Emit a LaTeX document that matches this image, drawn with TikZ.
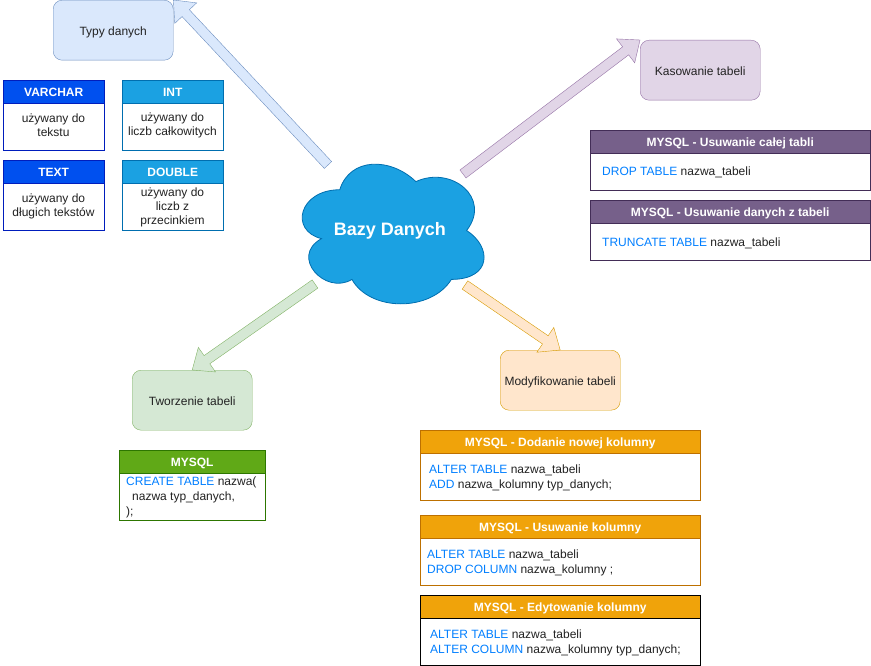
\documentclass[tikz,border=0pt]{standalone}
\usepackage{fontspec}
\setmainfont{Liberation Sans}
\usetikzlibrary{calc}
\definecolor{typyF}{HTML}{DAE8FC}\definecolor{typyD}{HTML}{6C8EBF}
\definecolor{purF}{HTML}{E1D5E7}\definecolor{purD}{HTML}{9673A6}
\definecolor{grnF}{HTML}{D5E8D4}\definecolor{grnD}{HTML}{82B366}
\definecolor{oraF}{HTML}{FFE6CC}\definecolor{oraD}{HTML}{D79B00}
\definecolor{cloudF}{HTML}{1BA1E2}\definecolor{cloudD}{HTML}{006EAF}
\definecolor{vcF}{HTML}{0050EF}\definecolor{vcD}{HTML}{001DBC}
\definecolor{mpF}{HTML}{76608A}\definecolor{mpD}{HTML}{432D57}
\definecolor{mgF}{HTML}{60A917}\definecolor{mgD}{HTML}{2D7600}
\definecolor{moF}{HTML}{F0A30A}\definecolor{moD}{HTML}{BD7000}
\definecolor{kw}{HTML}{007FFF}
\definecolor{txt}{HTML}{222222}
\newcommand\flexarr[4]{%
  \coordinate (fab) at ($(#2)!18pt!(#1)$);
  \filldraw[draw=#4,fill=#3,line join=miter]
    ($(#1)!5pt!90:(#2)$) -- ($(fab)!5pt!-90:(#1)$) -- ($(fab)!15pt!-90:(#1)$)
    -- (#2) -- ($(fab)!15pt!90:(#1)$) -- ($(fab)!5pt!90:(#1)$)
    -- ($(#1)!5pt!-90:(#2)$) -- cycle;}
\begin{document}
\begin{tikzpicture}[x=1pt,y=-1pt,
  every node/.style={font=\fontsize{12}{14}\selectfont, text=txt, inner sep=0pt},
  topic/.style={draw, rounded corners=9pt, minimum width=120pt, minimum height=60pt, anchor=north west, text height=10pt, text depth=0pt},
  hdr/.style={draw, text=white, font=\bfseries\fontsize{12}{14}\selectfont, minimum height=23pt, anchor=north west, text height=10.4pt, text depth=0pt},
  bodyrect/.style={draw, fill=white, anchor=north west},
  desc/.style={align=center, font=\fontsize{12}{14}\selectfont},
  code/.style={align=left, anchor=west, font=\fontsize{12}{15}\selectfont}
]
\useasboundingbox (0,0) rectangle (871,666);
% cloud
\filldraw[draw=cloudD, fill=cloudF, line width=0.8pt, shift={(289,149)}, x=203pt, y=-163pt]
  (0.25,0.25) .. controls (0.05,0.25) and (0,0.5) .. (0.16,0.55)
  .. controls (0,0.66) and (0.18,0.9) .. (0.31,0.8)
  .. controls (0.4,1) and (0.7,1) .. (0.8,0.8)
  .. controls (1,0.8) and (1,0.6) .. (0.875,0.5)
  .. controls (1,0.3) and (0.8,0.1) .. (0.625,0.2)
  .. controls (0.5,0.05) and (0.3,0.05) .. (0.25,0.25) -- cycle;
\node[anchor=base, text=white, font=\bfseries\fontsize{18}{20}\selectfont] (cloud) at (390,236) {Bazy Danych};

% topic boxes
\node[topic, draw=typyD, fill=typyF] (typy) at (53,0) {Typy danych};
\node[topic, draw=purD, fill=purF] (kas) at (640,40) {Kasowanie tabeli};
\node[topic, draw=grnD, fill=grnF] (tworz) at (132,370) {Tworzenie tabeli};
\node[topic, draw=oraD, fill=oraF] (mod) at (500,350) {Modyfikowanie tabeli};

% arrows
\coordinate (tb) at (328,165);
\coordinate (tp) at (463,174);
\coordinate (tg) at (315,284);
\coordinate (to) at (465,285);
\flexarr{tb}{typy.north east}{typyF}{typyD}
\flexarr{tp}{kas.north west}{purF}{purD}
\flexarr{tg}{tworz.north}{grnF}{grnD}
\flexarr{to}{mod.north}{oraF}{oraD}

% data type boxes
\node[bodyrect, draw=vcD, minimum width=101pt, minimum height=70pt] (vcB) at (3,80) {};
\node[hdr, fill=vcF, draw=vcD, minimum width=101pt] (vcH) at (3,80) {VARCHAR};
\node[desc] (vcT) at (53.5,125.5) {używany do\\tekstu};
\node[bodyrect, draw=cloudD, minimum width=101pt, minimum height=70pt] (inB) at (122,80) {};
\node[hdr, fill=cloudF, draw=cloudD, minimum width=101pt] (inH) at (122,80) {INT};
\node[desc] (inT) at (172.5,125.5) {używany do\\liczb całkowitych};
\node[bodyrect, draw=vcD, minimum width=101pt, minimum height=70pt] (txB) at (3,160) {};
\node[hdr, fill=vcF, draw=vcD, minimum width=101pt] (txH) at (3,160) {TEXT};
\node[desc] (txT) at (53.5,206) {używany do\\długich tekstów};
\node[bodyrect, draw=cloudD, minimum width=101pt, minimum height=70pt] (dbB) at (122,160) {};
\node[hdr, fill=cloudF, draw=cloudD, minimum width=101pt] (dbH) at (122,160) {DOUBLE};
\node[desc] (dbT) at (172.5,207) {używany do\\liczb z\\przecinkiem};

% purple mysql boxes
\node[bodyrect, draw=mpD, minimum width=280pt, minimum height=60pt] (p1B) at (590,130) {};
\node[hdr, fill=mpF, draw=mpD, minimum width=280pt] (p1H) at (590,130) {MYSQL - Usuwanie całej tabli};
\node[code] (p1T) at (602,172) {\textcolor{kw}{DROP TABLE} nazwa\_tabeli};
\node[bodyrect, draw=mpD, minimum width=280pt, minimum height=60pt] (p2B) at (590,200) {};
\node[hdr, fill=mpF, draw=mpD, minimum width=280pt] (p2H) at (590,200) {MYSQL - Usuwanie danych z tabeli};
\node[code] (p2T) at (602,243) {\textcolor{kw}{TRUNCATE TABLE} nazwa\_tabeli};

% green mysql box
\node[bodyrect, draw=mgD, minimum width=146pt, minimum height=70pt] (gB) at (119,450) {};
\node[hdr, fill=mgF, draw=mgD, minimum width=146pt] (gH) at (119,450) {MYSQL};
\node[code] (gT) at (126,497.5) {\textcolor{kw}{CREATE TABLE} nazwa(\\\hspace*{6pt}nazwa typ\_danych,\\);};

% orange mysql boxes
\node[bodyrect, draw=moD, minimum width=280pt, minimum height=70pt] (o1B) at (420,430) {};
\node[hdr, fill=moF, draw=moD, minimum width=280pt] (o1H) at (420,430) {MYSQL - Dodanie nowej kolumny};
\node[code] (o1T) at (429,477.5) {\textcolor{kw}{ALTER TABLE} nazwa\_tabeli\\\textcolor{kw}{ADD} nazwa\_kolumny typ\_danych;};
\node[bodyrect, draw=moD, minimum width=280pt, minimum height=70pt] (o2B) at (420,515) {};
\node[hdr, fill=moF, draw=moD, minimum width=280pt] (o2H) at (420,515) {MYSQL - Usuwanie kolumny};
\node[code] (o2T) at (427,562.5) {\textcolor{kw}{ALTER TABLE} nazwa\_tabeli\\\textcolor{kw}{DROP COLUMN} nazwa\_kolumny ;};
\node[bodyrect, draw=black, minimum width=280pt, minimum height=70pt] (o3B) at (420,595) {};
\node[hdr, fill=moF, draw=black, minimum width=280pt] (o3H) at (420,595) {MYSQL - Edytowanie kolumny};
\node[code] (o3T) at (430,642.5) {\textcolor{kw}{ALTER TABLE} nazwa\_tabeli\\\textcolor{kw}{ALTER COLUMN} nazwa\_kolumny typ\_danych;};
\end{tikzpicture}
\end{document}
